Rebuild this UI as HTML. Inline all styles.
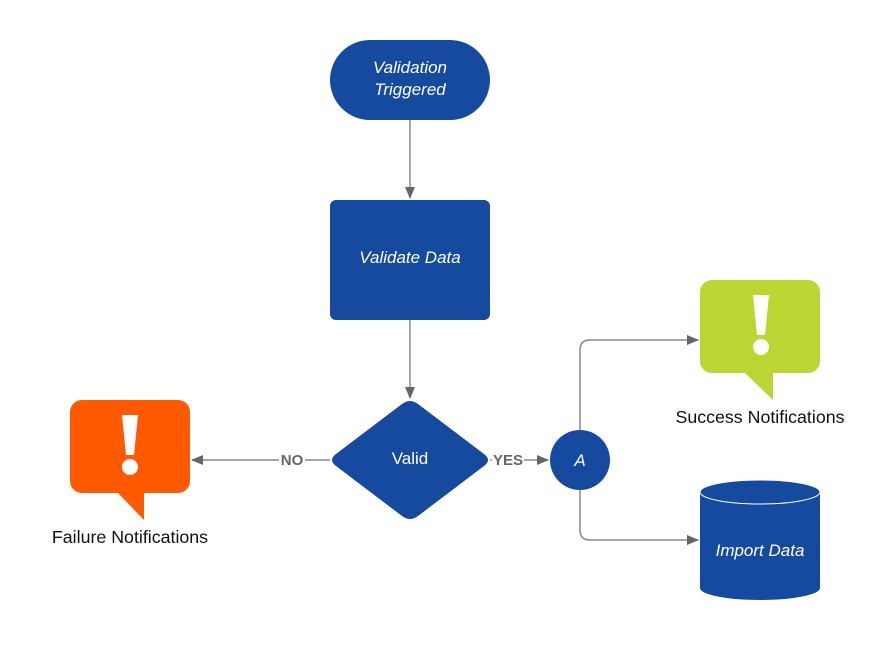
<!DOCTYPE html>
<html><head><style>body{margin:0;background:#fff}</style></head><body>
<svg width="890" height="640" viewBox="0 0 890 640" xmlns="http://www.w3.org/2000/svg" font-family="Liberation Sans, sans-serif">
<defs><marker id="a" markerWidth="12" markerHeight="10" refX="11" refY="5" orient="auto" markerUnits="userSpaceOnUse"><path d="M0,0L12,5L0,10z" fill="#666"/></marker></defs>
<g stroke="#888" stroke-width="1.5" fill="none">
<path d="M410,120V198" marker-end="url(#a)"/>
<path d="M410,320V398" marker-end="url(#a)"/>
<path d="M330,460H305M279,460H192" marker-end="url(#a)"/>
<path d="M490,460H492M524,460H548" marker-end="url(#a)"/>
<path d="M580,430V350Q580,340 590,340H698" marker-end="url(#a)"/>
<path d="M580,490V530Q580,540 590,540H698" marker-end="url(#a)"/>
</g>
<g font-weight="bold" font-size="15" fill="#666" text-anchor="middle"><text x="292" y="465">NO</text><text x="508" y="465">YES</text></g>
<rect x="330" y="40" width="160" height="80" rx="40" fill="#164a9e"/>
<rect x="330" y="200" width="160" height="120" rx="6" fill="#164a9e"/>
<path d="M402,404Q410,398 418,404L484,454Q492,460 484,466L418,516Q410,522 402,516L336,466Q328,460 336,454Z" fill="#164a9e"/>
<circle cx="580" cy="460" r="30" fill="#164a9e"/>
<path d="M700,492V588A60,12 0 0 0 820,588V492Z" fill="#164a9e"/>
<ellipse cx="760" cy="492" rx="60" ry="12" fill="#164a9e" stroke="#fff" stroke-width="1"/>
<g fill="#fff" font-style="italic" font-size="17" text-anchor="middle">
<text x="410" y="73">Validation</text><text x="410" y="95">Triggered</text>
<text x="410" y="263">Validate Data</text>
<text x="760" y="556">Import Data</text>
<text x="580" y="466">A</text>
</g>
<text x="410" y="464" fill="#fff" font-size="17" text-anchor="middle">Valid</text>
<rect x="700" y="280" width="120" height="93" rx="12" fill="#bcd532"/>
<path d="M744,372L773,400V372Z" fill="#bcd532"/>
<path d="M753,295H769L765,335H757Z" fill="#fff"/><circle cx="761" cy="347" r="8" fill="#fff"/>
<rect x="70" y="400" width="120" height="93" rx="12" fill="#ff5a00"/>
<path d="M117,492L144,520V492Z" fill="#ff5a00"/>
<path d="M122,415H138L134,455H126Z" fill="#fff"/><circle cx="130" cy="467" r="8" fill="#fff"/>
<g font-size="17.8" fill="#111" text-anchor="middle"><text x="760" y="423">Success Notifications</text><text x="130" y="543">Failure Notifications</text></g>
</svg>
</body></html>
